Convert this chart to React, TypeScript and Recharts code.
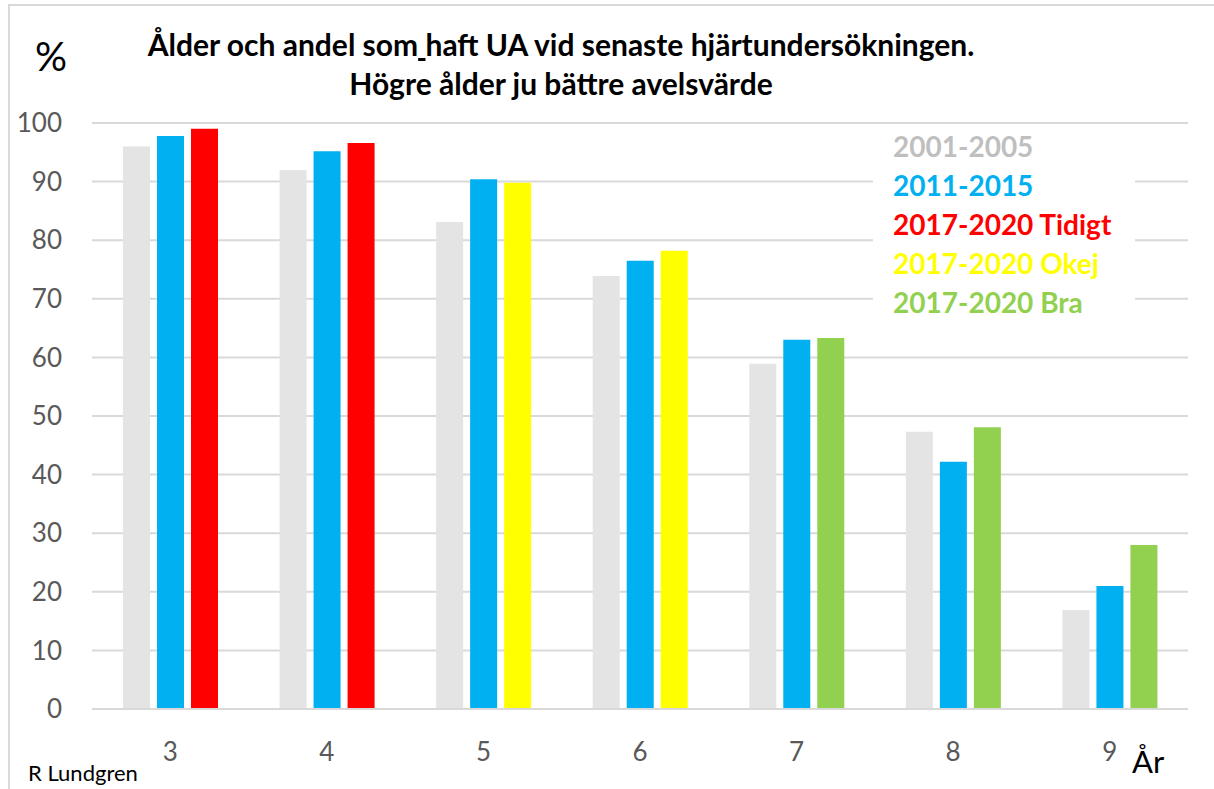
import { BarChart, Bar, XAxis, YAxis, CartesianGrid, Cell } from "recharts";

// age at latest heart exam (years)
const ages = ["3", "4", "5", "6", "7", "8", "9"];
// share (%) with UA per period
const p2001 = [96, 92, 83.1, 73.9, 58.9, 47.3, 16.9];
const p2011 = [97.8, 95.2, 90.4, 76.5, 63.0, 42.2, 21.0];
const p2017 = [99.0, 96.6, 89.8, 78.2, 63.3, 48.1, 28.0];
// which 2017-2020 group each age falls into
const p2017Group = ["Tidigt", "Tidigt", "Okej", "Okej", "Bra", "Bra", "Bra"];
const yTicks = [0, 10, 20, 30, 40, 50, 60, 70, 80, 90, 100];

const FONT = "Lato, 'Open Sans', sans-serif";
const GRID = "#d9d9d9";
const TICK = "#595959";

const colors = {
  p2001: "#e4e4e4",
  p2011: "#00b0f0",
  Tidigt: "#ff0000",
  Okej: "#ffff00",
  Bra: "#92d050",
};

const legendItems = [
  { label: "2001-2005", color: "#bfbfbf" },
  { label: "2011-2015", color: colors.p2011 },
  { label: "2017-2020 Tidigt", color: colors.Tidigt },
  { label: "2017-2020 Okej", color: colors.Okej },
  { label: "2017-2020 Bra", color: colors.Bra },
];

const data = ages.map((age, i) => ({
  age,
  p2001: p2001[i],
  p2011: p2011[i],
  p2017: p2017[i],
  group: p2017Group[i],
}));

export default function App() {
  return (
    <div
      style={{
        position: "absolute",
        left: 0,
        top: 0,
        width: 1214,
        height: 789,
        background: "#fff",
        fontFamily: FONT,
        overflow: "hidden",
      }}
    >
      {/* frame */}
      <div
        style={{
          position: "absolute",
          left: 8,
          top: 4,
          width: 1220,
          height: 800,
          borderLeft: `2px solid ${GRID}`,
          borderTop: `2px solid ${GRID}`,
        }}
      />

      <BarChart
        width={1214}
        height={789}
        data={data}
        margin={{ top: 123, right: 26, left: 12, bottom: 20 }}
        barSize={27}
        barGap={7}
      >
        <CartesianGrid vertical={false} stroke={GRID} strokeWidth={2} />
        <XAxis
          dataKey="age"
          height={60}
          tickLine={false}
          axisLine={{ stroke: GRID, strokeWidth: 2 }}
          tick={{ fontSize: 26, fill: TICK, fontFamily: FONT }}
          tickMargin={28}
        />
        <YAxis
          width={80}
          domain={[0, 100]}
          ticks={yTicks}
          interval={0}
          axisLine={false}
          tickLine={false}
          tick={{ fontSize: 26, fill: TICK, fontFamily: FONT }}
          tickMargin={24}
        />
        <Bar dataKey="p2001" fill={colors.p2001} isAnimationActive={false} />
        <Bar dataKey="p2011" fill={colors.p2011} isAnimationActive={false} />
        <Bar dataKey="p2017" isAnimationActive={false}>
          {data.map((d) => (
            <Cell key={d.age} fill={colors[d.group as keyof typeof colors]} />
          ))}
        </Bar>
      </BarChart>

      {/* title */}
      <div
        style={{
          position: "absolute",
          left: 0,
          top: 25,
          width: 1122,
          textAlign: "center",
          fontWeight: 700,
          fontSize: 30,
          lineHeight: "39px",
          color: "#000",
        }}
      >
        <div>
          Ålder och andel som<span style={{ textDecoration: "underline" }}>&nbsp;</span>haft UA vid senaste
          hjärtundersökningen.
        </div>
        <div>Högre ålder ju bättre avelsvärde</div>
      </div>

      <div style={{ position: "absolute", left: 35, top: 32, fontSize: 40, color: "#000" }}>%</div>
      <div style={{ position: "absolute", left: 1132, top: 742, fontSize: 31, color: "#000" }}>År</div>
      <div style={{ position: "absolute", left: 28, top: 759, fontSize: 22, color: "#000" }}>R Lundgren</div>

      {/* legend */}
      <div
        style={{
          position: "absolute",
          left: 873,
          top: 127,
          width: 262,
          height: 196,
          background: "#fff",
          paddingLeft: 20,
          boxSizing: "border-box",
        }}
      >
        {legendItems.map((it) => (
          <div
            key={it.label}
            style={{
              color: it.color,
              fontWeight: 700,
              fontSize: 28,
              lineHeight: "39px",
              height: 39,
              whiteSpace: "nowrap",
            }}
          >
            {it.label}
          </div>
        ))}
      </div>
    </div>
  );
}
